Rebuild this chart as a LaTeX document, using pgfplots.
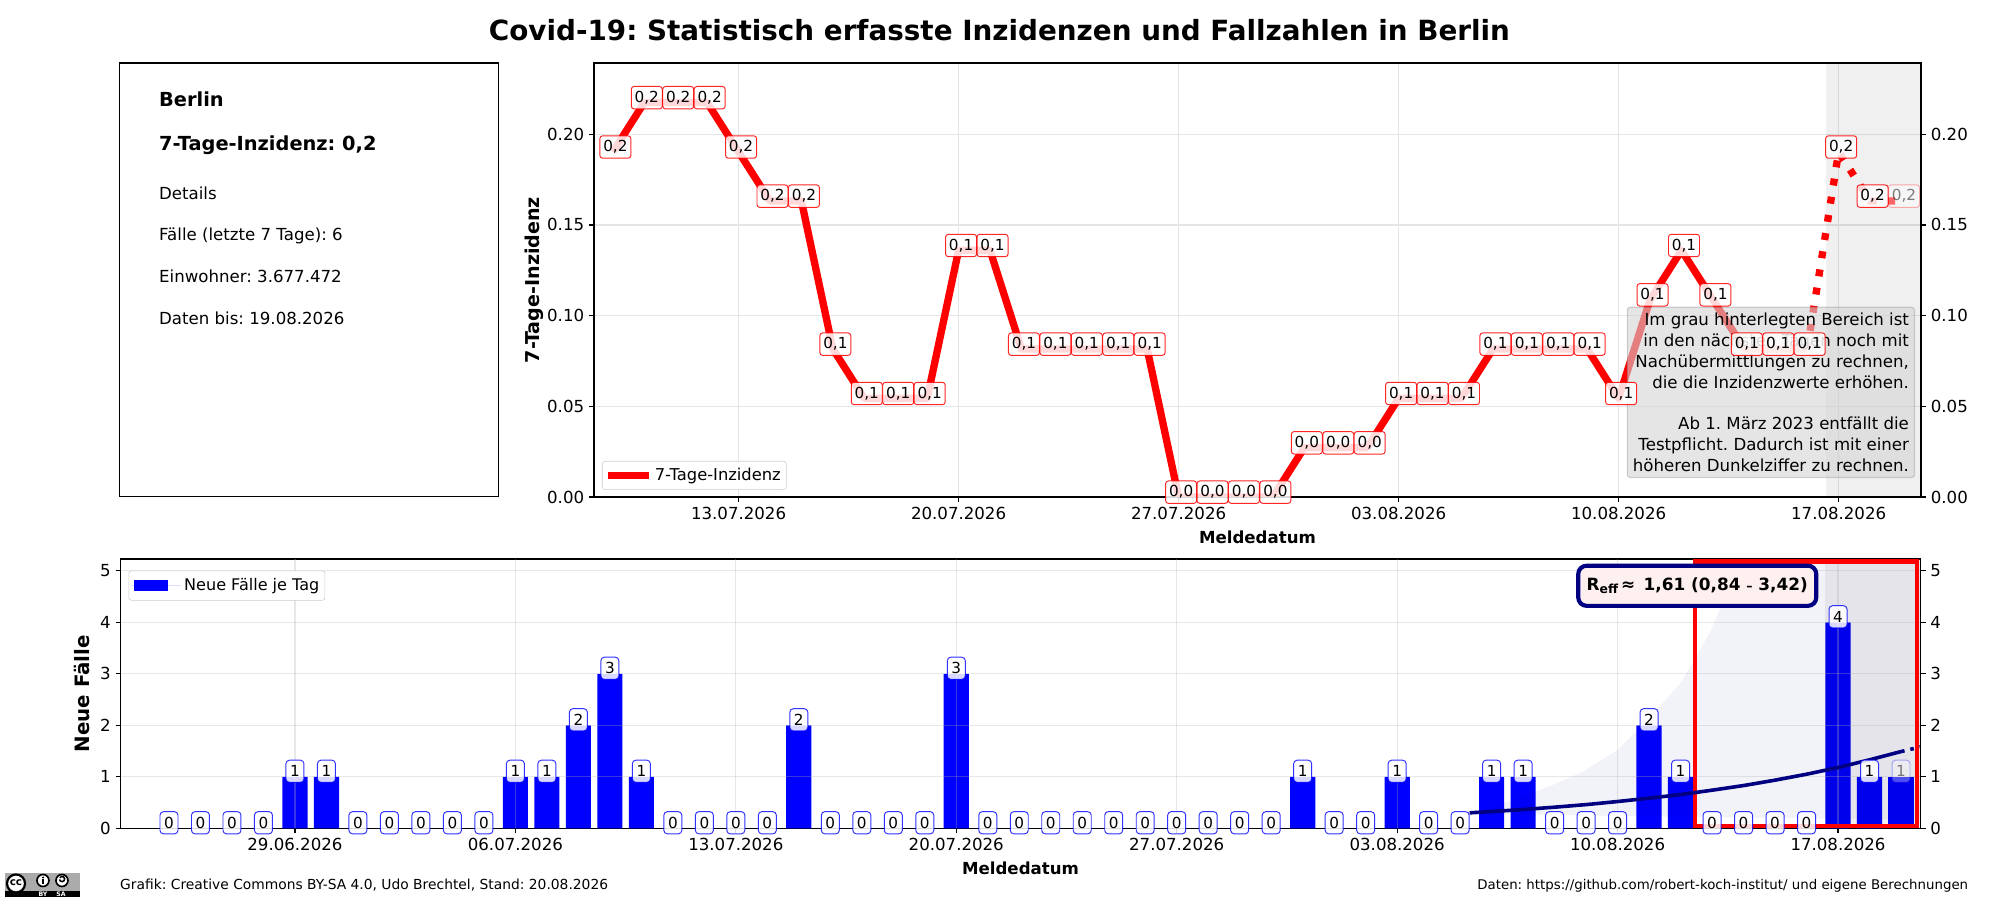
\documentclass[border=0pt]{standalone}
\usepackage{fontspec}
\usepackage{pgfplots}
\usepackage{pgfplotstable}
\pgfplotsset{compat=1.18}
\setmainfont{DejaVu Sans}
\frenchspacing
\newcommand{\fs}[1]{\fontsize{#1}{#1}\selectfont}

% 7-Tage-Inzidenz (tag 0 = 29.06.2026)
\pgfplotstableread{
x y l
10 .1903 0,2
11 .2175 0,2
12 .2175 0,2
13 .2175 0,2
14 .1903 0,2
15 .1632 0,2
16 .1632 0,2
17 .0816 0,1
18 .0544 0,1
19 .0544 0,1
20 .0544 0,1
21 .1360 0,1
22 .1360 0,1
23 .0816 0,1
24 .0816 0,1
25 .0816 0,1
26 .0816 0,1
27 .0816 0,1
28 0 0,0
29 0 0,0
30 0 0,0
31 0 0,0
32 .0272 0,0
33 .0272 0,0
34 .0272 0,0
35 .0544 0,1
36 .0544 0,1
37 .0544 0,1
38 .0816 0,1
39 .0816 0,1
40 .0816 0,1
41 .0816 0,1
42 .0544 0,1
43 .1088 0,1
44 .1360 0,1
45 .1088 0,1
46 .0816 0,1
47 .0816 0,1
48 .0816 0,1
49 .1903 0,2
50 .1632 0,2
}\inz
\pgfplotstableread{
x y l
51 .1632 0,2
}\inzlast

% neue Faelle je Tag
\pgfplotstableread{
x y
-4 0
-3 0
-2 0
-1 0
0 1
1 1
2 0
3 0
4 0
5 0
6 0
7 1
8 1
9 2
10 3
11 1
12 0
13 0
14 0
15 0
16 2
17 0
18 0
19 0
20 0
21 3
22 0
23 0
24 0
25 0
26 0
27 0
28 0
29 0
30 0
31 0
32 1
33 0
34 0
35 1
36 0
37 0
38 1
39 1
40 0
41 0
42 0
43 2
44 1
45 0
46 0
47 0
48 0
49 4
50 1
}\faelle
\pgfplotstableread{
x y
51 1
}\faellelast

\pgfplotsset{
  every axis/.append style={
    scale only axis,
    axis line style={-,line width=.8pt},
    tick style={black,line width=.8pt},
    major tick length=3.6pt,
    tick align=outside,
    clip mode=individual,
    tick label style={font=\fs{12}},
    /pgf/number format/assume math mode=true,
  },
  topax/.style={
    at={(5.94in,4.03in)},anchor=south west,width=13.27in,height=4.34in,
    xmin=9.4,xmax=51.62,ymin=0,ymax=.2393,
    ytick={0,.05,.1,.15,.2},
    yticklabel style={/pgf/number format/.cd,fixed,fixed zerofill,precision=2},
  },
  botax/.style={
    at={(1.205in,.717in)},anchor=south west,width=18in,height=2.693in,
    xmin=-5.54,xmax=51.62,ymin=0,ymax=5.23,
    ytick={0,1,2,3,4,5},
    yticklabel style={/pgf/number format/.cd,fixed,precision=0},
  },
  redlab/.style={
    nodes near coords={\pgfplotspointmeta},
    nodes near coords align=center,
    every node near coord/.append style={
      font=\fs{11},rounded corners=2pt,draw=red,line width=.7pt,fill=white,
      fill opacity=.85,draw opacity=.85,text opacity=1,inner sep=0pt,
      minimum width=22.4pt,minimum height=16.2pt,yshift=3.5pt,xshift=1.8pt},
  },
  bluelab/.style={
    nodes near coords={\pgfplotspointmeta},
    nodes near coords align=center,
    every node near coord/.append style={
      font=\fs{11},rounded corners=2.5pt,draw=blue,line width=.7pt,fill=white,
      fill opacity=.85,draw opacity=.8,text opacity=1,inner sep=0pt,
      minimum width=13pt,minimum height=16pt,yshift=4pt},
  },
  gl/.style={color=black!31,opacity=.3,line width=.8pt,forget plot},
}

\begin{document}
\begin{tikzpicture}
\path[use as bounding box] (0,0) rectangle (20in,9in);

% obere Grafik
\begin{axis}[topax,
  xtick pos=bottom,ytick pos=left,
  xtick={14,21,28,35,42,49},
  xticklabels={13.07.2026,20.07.2026,27.07.2026,03.08.2026,10.08.2026,17.08.2026},
  xmajorgrids,ymajorgrids,
  major grid style={color=black!10,line width=.8pt},
  xlabel={\bfseries\fs{12}Meldedatum},
  xlabel style={yshift=-1.5pt},
  ylabel={\bfseries\fs{13.8}7-Tage-Inzidenz},
  ylabel style={yshift=-4.6pt},
  legend style={at={(.006,.083)},anchor=north west,draw=black!20,rounded corners=2pt,
    fill=white,font=\fs{11.8},inner xsep=2pt,inner ysep=3pt},
  legend image code/.code={\draw[red,line width=5pt,sharp corners] (0cm,0cm) -- (29pt,0cm);},
]
\addplot[fill=black,fill opacity=.06,draw=none,forget plot] coordinates {
  (48.6,0) (51.62,0) (51.62,.2393) (48.6,.2393)};
\addplot[red,line width=5.3pt,line join=round] coordinates {
 (10,.1903) (11,.2175) (12,.2175) (13,.2175) (14,.1903) (15,.1632) (16,.1632) (17,.0816)
 (18,.0544) (19,.0544) (20,.0544) (21,.1360) (22,.1360) (23,.0816) (24,.0816) (25,.0816)
 (26,.0816) (27,.0816) (28,0) (29,0) (30,0) (31,0) (32,.0272) (33,.0272) (34,.0272)
 (35,.0544) (36,.0544) (37,.0544) (38,.0816) (39,.0816) (40,.0816) (41,.0816) (42,.0544)
 (43,.1088) (44,.1360) (45,.1088) (46,.0816) (47,.0816) (48,.0816)};
\addlegendentry{7-Tage-Inzidenz}
\addplot[red,line width=5.3pt,dash pattern=on 5pt off 8.3pt,forget plot] coordinates {
  (48,.0816) (49,.1903) (50,.1632) (51,.1632)};
\node[anchor=north east,align=right,font=\fontsize{12}{15.1}\selectfont,rounded corners=2pt,
  draw=black!50,draw opacity=.35,fill=black!17,fill opacity=.6,text opacity=1,
  inner xsep=4pt,inner ysep=4pt,line width=.8pt]
  at (axis cs:51.43,.1049)
  {Im grau hinterlegten Bereich ist\\
   in den nächsten Tagen noch mit\\
   Nachübermittlungen zu rechnen,\\
   die die Inzidenzwerte erhöhen.\\[15.1pt]
   Ab 1. März 2023 entfällt die\\
   Testpflicht. Dadurch ist mit einer\\
   höheren Dunkelziffer zu rechnen.};
\addplot[draw=none,mark=none,forget plot,redlab,point meta=explicit symbolic]
  table[x=x,y=y,meta=l] {\inz};
\addplot[draw=none,mark=none,forget plot,redlab,point meta=explicit symbolic,
  every node near coord/.append style={fill opacity=.4,draw opacity=.3,text opacity=.5}]
  table[x=x,y=y,meta=l] {\inzlast};
\end{axis}
\begin{axis}[topax,axis x line=none,axis y line*=right,axis y line shift=0pt]
\addplot[draw=none,forget plot] coordinates {(20,.1)};
\end{axis}

% untere Grafik
\begin{axis}[botax,
  xtick pos=bottom,ytick pos=left,
  xtick={0,7,14,21,28,35,42,49},
  xticklabels={29.06.2026,06.07.2026,13.07.2026,20.07.2026,27.07.2026,03.08.2026,10.08.2026,17.08.2026},
  xlabel={\bfseries\fs{12}Meldedatum},
  xlabel style={yshift=-1.5pt},
  ylabel={\bfseries\fs{14.3}Neue Fälle},
  ylabel style={yshift=.8pt},
  legend style={at={(.0045,.957)},anchor=north west,draw=black!20,rounded corners=2pt,
    fill=white,font=\fs{11.6},inner xsep=2pt,inner ysep=3.5pt},
  legend image code/.code={\fill[blue,sharp corners] (0cm,-4pt) rectangle (24pt,4pt);\path (-2pt,0cm) -- (34pt,0cm);},
]
\addplot[ybar,bar width=.8,bar shift=0pt,fill=blue,draw=none] table[x=x,y=y] {\faelle};
\addlegendentry{Neue Fälle je Tag}
\addplot[ybar,bar width=.8,bar shift=0pt,fill=blue,draw=none,forget plot] table[x=x,y=y] {\faellelast};
\addplot[fill=black,fill opacity=.06,draw=none,forget plot] coordinates {
  (48.6,0) (51.62,0) (51.62,5.23) (48.6,5.23)};
\addplot[fill=blue!50!black,fill opacity=.05,draw=none,forget plot] coordinates {
  (37,.29) (38,.40) (39,.62) (39.94,.84) (40.9,1.10) (42,1.52) (43.2,2.26) (44,2.82)
  (44.47,3.30) (45,3.89) (45.3,4.34) (46,5.4) (51.62,5.4) (51.62,.17) (47,.20) (42,.24) (37,.29)};
\pgfplotsinvokeforeach{1,2,3,4,5}{\addplot[gl] coordinates {(-5.54,#1) (51.62,#1)};}
\pgfplotsinvokeforeach{0,7,14,21,28,35,42,49}{\addplot[gl] coordinates {(#1,0) (#1,5.23)};}
\addplot[red,line width=3.1pt,line join=miter,line cap=rect,forget plot] coordinates {
  (44.46,.04) (51.5,.04) (51.5,5.18) (44.46,5.18) (44.46,.04)};
\addplot[blue!50!black,line width=2.6pt,forget plot] coordinates {
  (37.3,.30) (38,.325) (39,.365) (40,.41) (41,.46) (42,.52) (43,.585) (44,.655) (45,.74)
  (46,.83) (47,.935) (48,1.05) (49,1.18) (50,1.33) (51,1.49)};
\addplot[blue!50!black,line width=2.6pt,dash pattern=on 2.6pt off 4.3pt,forget plot] coordinates {
  (51,1.49) (51.62,1.58)};
\addplot[draw=none,mark=none,forget plot,bluelab,point meta=explicit symbolic]
  table[x=x,y=y,meta=y] {\faelle};
\addplot[draw=none,mark=none,forget plot,bluelab,point meta=explicit symbolic,
  every node near coord/.append style={fill opacity=.3,draw opacity=.3,text opacity=.5}]
  table[x=x,y=y,meta=y] {\faellelast};
\node[font=\bfseries\fs{12.2},rounded corners=6pt,draw=blue!50!black,line width=3pt,
  fill=red!6,minimum width=172pt,minimum height=29pt,inner sep=0pt]
  at (axis cs:44.53,4.71) {R\raisebox{-2pt}{\fs{9}eff}\,≈\hspace{.5em}1,61 (0,84 \raisebox{0pt}{\fs{9}–} 3,42)};
\end{axis}
\begin{axis}[botax,axis x line=none,axis y line*=right,axis y line shift=0pt]
\addplot[draw=none,forget plot] coordinates {(20,1)};
\end{axis}

% Texte in Pixelkoordinaten
\begin{scope}[x=.01in,y=-.01in,yshift=9in]
\node[font=\bfseries\fs{20.1}] at (1000,30) {Covid-19: Statistisch erfasste Inzidenzen und Fallzahlen in Berlin};
\draw[line width=.8pt] (120,63) rectangle (499,497);
\node[anchor=west,inner sep=0pt,font=\bfseries\fs{14}] at (159,99) {Berlin};
\node[anchor=west,inner sep=0pt,font=\bfseries\fs{14}] at (159,145.5) {7-Tage-Inzidenz: 0,2};
\node[anchor=west,inner sep=0pt,font=\fs{12}] at (159,193) {Details};
\node[anchor=west,inner sep=0pt,font=\fs{12}] at (159,236) {Fälle (letzte 7 Tage): 6};
\node[anchor=west,inner sep=0pt,font=\fs{12}] at (159,276) {Einwohner: 3.677.472};
\node[anchor=west,inner sep=0pt,font=\fs{12}] at (159,318) {Daten bis: 19.08.2026};
\node[anchor=west,inner sep=0pt,font=\fs{10}] at (120,886) {Grafik: Creative Commons BY-SA 4.0, Udo Brechtel, Stand: 20.08.2026};
\node[anchor=east,inner sep=0pt,font=\fs{9.65}] at (1969.5,886) {Daten: https://github.com/robert-koch-institut/ und eigene Berechnungen};
% CC-Badge
\fill[black!33] (5,873) rectangle (80,898);
\fill[black] (5,891.5) rectangle (80,898);
\draw[black,line width=1.6pt,fill=white] (16,884) circle[radius=9];
\node[font=\bfseries\fs{7.5}] at (16,883.5) {cc};
\draw[black,line width=1.2pt,fill=white] (43,881) circle[radius=6];
\fill[black] (43,878) circle[radius=1.1];
\fill[black] (41.8,879.8) rectangle (44.2,884.5);
\draw[black,line width=1.2pt,fill=white] (62,881) circle[radius=6];
\draw[black,line width=1.1pt] (59.5,880) arc[start angle=170,end angle=-150,radius=2.6];
\node[white,font=\bfseries\fs{4.5},inner sep=0pt] at (43,895) {BY};
\node[white,font=\bfseries\fs{4.5},inner sep=0pt] at (61,895) {SA};
\end{scope}
\end{tikzpicture}
\end{document}
